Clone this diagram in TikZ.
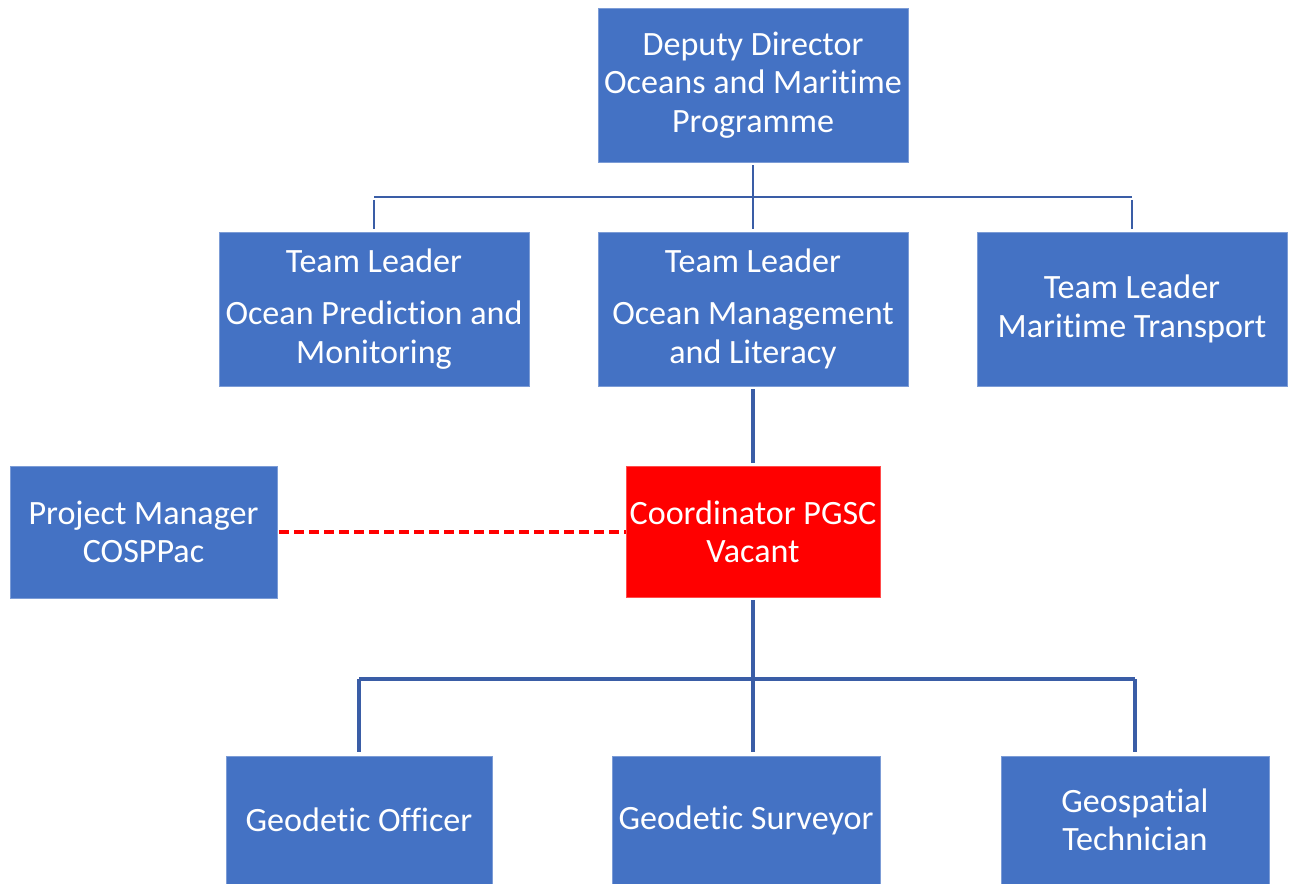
\documentclass[tikz,border=0pt]{standalone}
\usepackage{fontspec}
\setmainfont[Ligatures=NoCommon]{Carlito}
\usepackage{xcolor}
\definecolor{boxblue}{HTML}{4472C4}
\definecolor{wireblue}{HTML}{3A5DA6}
\definecolor{vacantred}{HTML}{FF0000}
\tikzset{
	post/.style={shape=rectangle, fill=boxblue, draw=boxblue!70!white, line width=0.4pt, inner sep=0pt, text=white, align=center, font=\fontsize{19.4}{21.8}\selectfont},
	vacant/.style={post, fill=vacantred, draw=vacantred!70!white},
	wire/.style={draw=wireblue, line width=1.4pt},
	thickwire/.style={draw=wireblue, line width=2pt},
	drop/.style={shorten <=0.06cm, shorten >=0.06cm}
}
\begin{document}
\begin{tikzpicture}[x=0.02cm, y=-0.02cm]
	\useasboundingbox (0, 0) rectangle (1293, 884);
	% Paths, nodes and wires:
	\node[post, minimum width=6.2cm, minimum height=3.08cm] (dep) at (753, 85) {Deputy Director\\Oceans and Maritime\\Programme};
	\node[post, minimum width=6.2cm, minimum height=3.08cm] (tlpred) at (374, 309) {Team Leader\\[0.4em]Ocean Prediction and\\Monitoring};
	\node[post, minimum width=6.2cm, minimum height=3.08cm] (tlman) at (753, 309) {Team Leader\\[0.4em]Ocean Management\\and Literacy};
	\node[post, minimum width=6.2cm, minimum height=3.08cm] (tltra) at (1132, 309) {Team Leader\\Maritime Transport};
	\node[vacant, minimum width=5.08cm, minimum height=2.62cm] (coord) at (753, 531.5) {Coordinator PGSC\\Vacant};
	\node[post, minimum width=5.34cm, minimum height=2.64cm] (pm) at (143.5, 532) {Project Manager\\COSPPac};
	\node[post, minimum width=5.32cm, minimum height=2.56cm] (offi) at (359, 820) {Geodetic Officer};
	\node[post, minimum width=5.36cm, minimum height=2.56cm] (surv) at (746, 820) {Geodetic Surveyor};
	\node[post, minimum width=5.36cm, minimum height=2.56cm] (tech) at (1135, 820) {Geospatial\\Technician};
	\coordinate (topbar) at (753, 197);
	\coordinate (lowbar) at (753, 679);
	\draw[wire, shorten <=0.06cm] (dep.south) -- (topbar);
	\draw[wire] (tlpred.north |- topbar) -- (tltra.north |- topbar);
	\draw[wire, drop] (tlpred.north |- topbar) -- (tlpred.north);
	\draw[wire, shorten >=0.06cm] (topbar) -- (tlman.north);
	\draw[wire, drop] (tltra.north |- topbar) -- (tltra.north);
	\draw[thickwire, drop] (tlman.south) -- (coord.north);
	\draw[thickwire, shorten <=0.06cm] (coord.south) -- (lowbar);
	\draw[thickwire] (offi.north |- lowbar) -- (tech.north |- lowbar);
	\draw[thickwire, shorten >=0.08cm] (offi.north |- lowbar) -- (offi.north);
	\draw[thickwire, shorten >=0.08cm] (lowbar) -- (lowbar |- surv.north);
	\draw[thickwire, shorten >=0.08cm] (tech.north |- lowbar) -- (tech.north);
	\draw[vacantred, line width=2pt, dash pattern=on 0.2cm off 0.1cm, shorten <=0.04cm] (pm.east) -- (coord.west |- pm.east);
\end{tikzpicture}
\end{document}
